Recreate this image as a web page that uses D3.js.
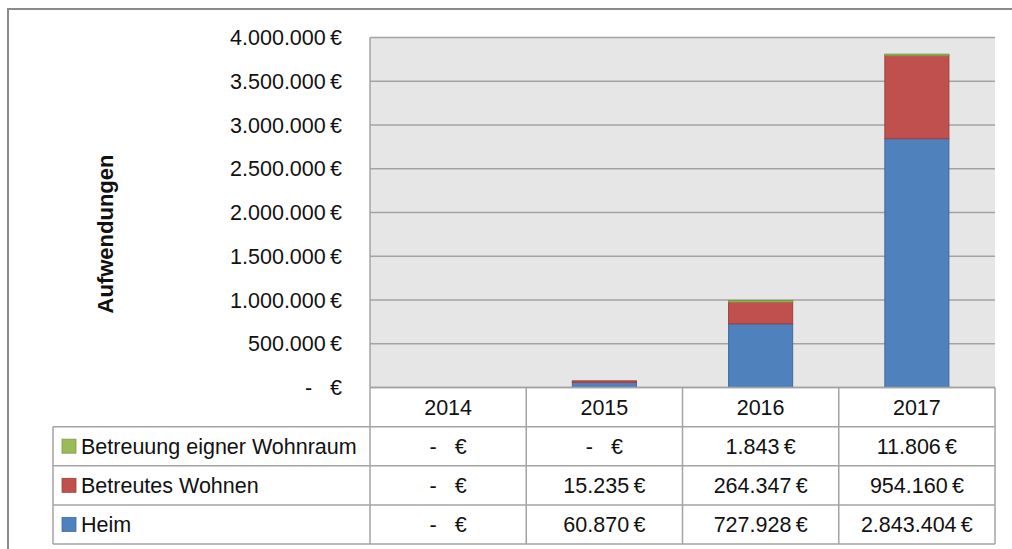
<!DOCTYPE html>
<html>
<head>
<meta charset="utf-8">
<script src="https://cdn.jsdelivr.net/npm/d3@7"></script>
<style>
  body { margin: 0; background: #fff; }
  text { font-family: "Liberation Sans", Arial, sans-serif; fill: #111; }
</style>
</head>
<body>
<svg id="chart" width="1012" height="549"></svg>
<script>

// data
var years = ["2014", "2015", "2016", "2017"];
var seriesNames = ["Heim", "Betreutes Wohnen", "Betreuung eigner Wohnraum"];
var heim = [0, 60870, 727928, 2843404];
var betreutesWohnen = [0, 15235, 264347, 954160];
var eignerWohnraum = [0, 0, 1843, 11806];
var yTicks = [0, 500000, 1000000, 1500000, 2000000, 2500000, 3000000, 3500000, 4000000];

var colors = {
    "Heim": "#4F81BD",
    "Betreutes Wohnen": "#C0504D",
    "Betreuung eigner Wohnraum": "#9BBB59"
};
var strokes = {
    "Heim": "#3d6a9e",
    "Betreutes Wohnen": "#a13e3b",
    "Betreuung eigner Wohnraum": "#7e9a45"
};

var rows = years.map(function (y, i) {
    return {
        year: y,
        "Heim": heim[i],
        "Betreutes Wohnen": betreutesWohnen[i],
        "Betreuung eigner Wohnraum": eignerWohnraum[i]
    };
});

var de = d3.formatLocale({
    decimal: ",",
    thousands: ".",
    grouping: [3],
    currency: ["", "\u2009€"]
});
var fmt = de.format("$,.0f");
function money(v) {
    return v === 0 ? "-   €" : fmt(v);
}

var svg = d3.select("#chart");
var gridColor = "#a3a3a3";

var plotLeft = 370, plotRight = 995, plotTop = 37.5, plotBottom = 387.5;

var x = d3.scaleBand()
    .domain(years)
    .range([plotLeft, plotRight]);

var y = d3.scaleLinear()
    .domain([0, 4000000])
    .range([plotBottom, plotTop]);

// outer frame
svg.append("path")
    .attr("d", "M8,549 L8,9 L1012,9")
    .attr("fill", "none")
    .attr("stroke", "#8a8a8a")
    .attr("stroke-width", 2);

// plot background
svg.append("rect")
    .attr("x", plotLeft)
    .attr("y", plotTop)
    .attr("width", plotRight - plotLeft)
    .attr("height", plotBottom - plotTop)
    .attr("fill", "#e6e6e6");

// gridlines
svg.append("g")
    .selectAll("line")
    .data(yTicks)
    .enter()
    .append("line")
    .attr("x1", plotLeft)
    .attr("x2", plotRight)
    .attr("y1", function (d) { return y(d); })
    .attr("y2", function (d) { return y(d); })
    .attr("stroke", gridColor)
    .attr("stroke-width", 1.5);

svg.append("line")
    .attr("x1", plotLeft).attr("x2", plotLeft)
    .attr("y1", plotTop).attr("y2", plotBottom)
    .attr("stroke", gridColor)
    .attr("stroke-width", 1.5);

// y tick labels
svg.append("g")
    .selectAll("text")
    .data(yTicks)
    .enter()
    .append("text")
    .attr("x", 342)
    .attr("y", function (d) { return y(d); })
    .attr("dy", "0.36em")
    .attr("text-anchor", "end")
    .style("font-size", "21.5px")
    .style("white-space", "pre")
    .text(money);

// y axis title
svg.append("text")
    .attr("transform", "translate(113,234) rotate(-90)")
    .attr("text-anchor", "middle")
    .style("font-size", "22px")
    .style("font-weight", "bold")
    .text("Aufwendungen");

// stacked bars
var stack = d3.stack().keys(seriesNames);
var layers = stack(rows);
var barW = x.bandwidth() * 0.41;

svg.append("g")
    .selectAll("g")
    .data(layers)
    .enter()
    .append("g")
    .attr("fill", function (d) { return colors[d.key]; })
    .attr("stroke", function (d) { return strokes[d.key]; })
    .selectAll("rect")
    .data(function (d) { return d.filter(function (s) { return s[1] - s[0] > 0; }); })
    .enter()
    .append("rect")
    .attr("x", function (d) { return x(d.data.year) + (x.bandwidth() - barW) / 2; })
    .attr("width", barW)
    .attr("y", function (d) { return y(d[1]); })
    .attr("height", function (d) { return Math.max(1.5, y(d[0]) - y(d[1])); })
    .attr("stroke-width", 1);

// data table
var tableRows = ["header"].concat(seriesNames.slice().reverse());
var ty = d3.scaleBand()
    .domain(tableRows)
    .range([387.5, 544]);
var legendLeft = 53;

var table = svg.append("g")
    .attr("stroke", gridColor)
    .attr("stroke-width", 1.5);

// horizontal lines
table.append("line")
    .attr("x1", plotLeft).attr("x2", plotRight)
    .attr("y1", ty("header")).attr("y2", ty("header"));
table.selectAll(".hline")
    .data(tableRows.slice(1).concat(["end"]))
    .enter()
    .append("line")
    .attr("x1", legendLeft).attr("x2", plotRight)
    .attr("y1", function (d) { return d === "end" ? ty.range()[1] : ty(d); })
    .attr("y2", function (d) { return d === "end" ? ty.range()[1] : ty(d); });

// vertical lines
table.append("line")
    .attr("x1", legendLeft).attr("x2", legendLeft)
    .attr("y1", ty(tableRows[1])).attr("y2", ty.range()[1]);
table.selectAll(".vline")
    .data(years.concat(["end"]))
    .enter()
    .append("line")
    .attr("x1", function (d) { return d === "end" ? plotRight : x(d); })
    .attr("x2", function (d) { return d === "end" ? plotRight : x(d); })
    .attr("y1", ty("header"))
    .attr("y2", ty.range()[1]);

// header labels
svg.append("g")
    .selectAll("text")
    .data(years)
    .enter()
    .append("text")
    .attr("x", function (d) { return x(d) + x.bandwidth() / 2; })
    .attr("y", ty("header") + ty.bandwidth() / 2)
    .attr("dy", "0.36em")
    .attr("text-anchor", "middle")
    .style("font-size", "21.5px")
    .text(function (d) { return d; });

// legend + values
var valueRows = svg.append("g")
    .selectAll("g")
    .data(tableRows.slice(1))
    .enter()
    .append("g")
    .attr("transform", function (d) { return "translate(0," + (ty(d) + ty.bandwidth() / 2) + ")"; });

valueRows.append("rect")
    .attr("x", 62)
    .attr("y", -7)
    .attr("width", 14)
    .attr("height", 14)
    .attr("fill", function (d) { return colors[d]; })
    .attr("stroke", function (d) { return strokes[d]; })
    .attr("stroke-width", 0.8);

valueRows.append("text")
    .attr("x", 81)
    .attr("dy", "0.36em")
    .style("font-size", "21.5px")
    .text(function (d) { return d; });

valueRows.selectAll(".val")
    .data(function (d) {
        return rows.map(function (r) { return { year: r.year, v: r[d] }; });
    })
    .enter()
    .append("text")
    .attr("x", function (d) { return x(d.year) + x.bandwidth() / 2; })
    .attr("dy", "0.36em")
    .attr("text-anchor", "middle")
    .style("font-size", "21.5px")
    .style("white-space", "pre")
    .text(function (d) { return money(d.v); });

</script>
</body>
</html>
